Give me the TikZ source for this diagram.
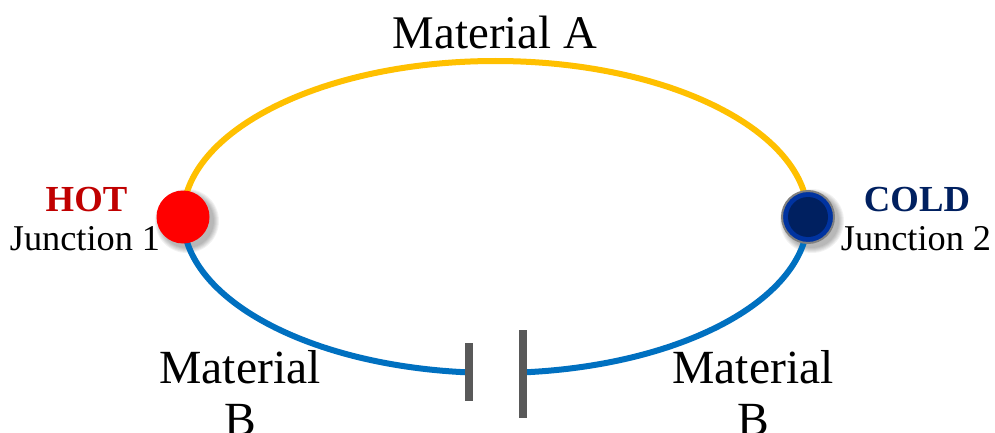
\documentclass[tikz,border=0pt]{standalone}
\usepackage{fontspec}
\setmainfont{Liberation Serif}
\definecolor{matA}{HTML}{FFC000}
\definecolor{matB}{HTML}{0070C0}
\definecolor{barc}{HTML}{595959}
\definecolor{hotred}{HTML}{C00000}
\definecolor{coldblue}{HTML}{002060}
\definecolor{ringblue}{HTML}{0033A0}
\tikzset{
  wire/.style={line width=6pt},
  big/.style={inner sep=0pt,font=\fontsize{47.6}{56}\selectfont,align=center,text=black},
  top/.style={inner sep=0pt,font=\fontsize{46.8}{56}\selectfont,text=black},
  small/.style={inner sep=0pt,font=\fontsize{36.3}{40}\selectfont,anchor=base},
  tag/.style={inner sep=0pt,font=\fontsize{36.7}{40}\bfseries\selectfont,anchor=base},
  batbar/.style={fill=barc,draw=none,inner sep=0pt,minimum width=8pt},
  junction/.style={circle,inner sep=0pt,draw=none},
  shade1/.style={fill=black,opacity=0.05,circle,inner sep=0pt,minimum size=#1}
}
\begin{document}
\begin{tikzpicture}[x=1pt,y=1pt]
\useasboundingbox (0,0) rectangle (995,432);
\clip (0,0) rectangle (995,432);
\fill[white] (0,0) rectangle (995,432);
\coordinate (hotc) at (183,215);
\coordinate (coldc) at (808,215);
% shadows
\foreach \s in {64,62,60,58,56,54}{
  \node[shade1=\s pt] at (187,211) {};
  \node[shade1=\s pt] at (812,211) {};
}
% wires
\draw[wire,matA] (hotc) arc[start angle=180,end angle=0,x radius=312.5,y radius=156];
\node[batbar,minimum height=58pt] (batL) at (469,60) {};
\node[batbar,minimum height=88pt] (batR) at (523,58) {};
\draw[wire,matB] (hotc) arc[start angle=180,end angle=265.2,x radius=312.5,y radius=156];
\draw[wire,matB] (coldc) arc[start angle=360,end angle=275.1,x radius=312.5,y radius=156];
\node[batbar,minimum height=58pt] at (batL) {};
\node[batbar,minimum height=88pt] at (batR) {};
% junctions
\node[junction,fill=red,minimum size=53pt] (hot) at (hotc) {};
\node[junction,fill=ringblue,draw=gray,line width=2pt,minimum size=52pt] (cold) at (coldc) {};
\node[junction,fill=coldblue,minimum size=40pt] (coldin) at (coldc) {};
% labels
\node[top,anchor=base] (ma) at (495,383) {Material A};
\node[tag,text=hotred] (hott) at (86.5,221) {HOT};
\node[small] (j1) at (85,182) {Junction 1};
\node[tag,text=coldblue] (coldt) at (917,221) {COLD};
\node[small] (j2) at (916,182) {Junction 2};
\node[big,anchor=base] (mb1) at (240,49) {Material};
\node[big,anchor=base] (mb1b) at (240,-3.5) {B};
\node[big,anchor=base] (mb2) at (753,49) {Material};
\node[big,anchor=base] (mb2b) at (753,-3.5) {B};
\end{tikzpicture}
\end{document}
